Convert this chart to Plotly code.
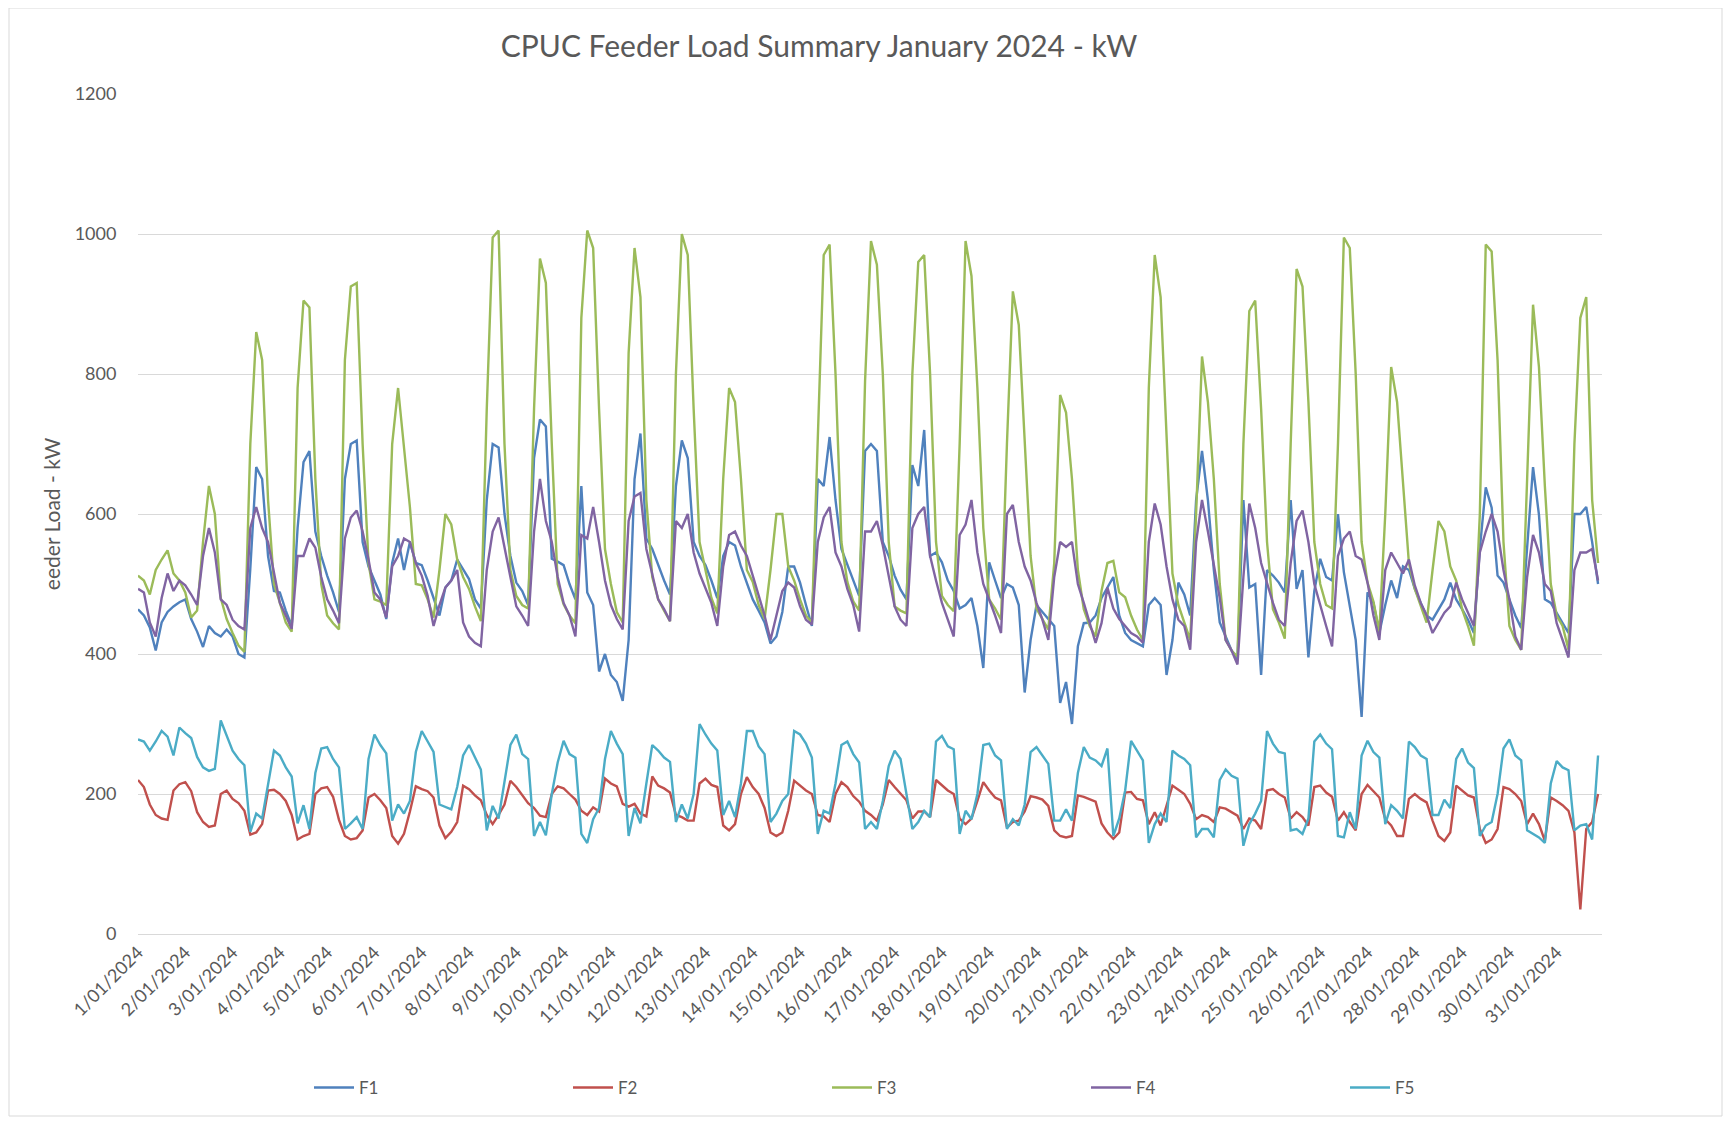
import plotly.graph_objects as go
import pandas as pd

# Samples every 3 hours (00,03,...,21) for each day of January 2024 (8 per day)
F1 = [
    464, 455, 438, 405, 445, 460, 468, 474,
    478, 450, 432, 410, 440, 430, 425, 435,
    425, 400, 395, 522, 667, 650, 540, 490,
    488, 462, 440, 580, 674, 690, 575, 540,
    512, 488, 460, 650, 700, 705, 560, 525,
    505, 485, 450, 530, 565, 520, 560, 530,
    527, 505, 480, 455, 495, 505, 535, 520,
    507, 478, 465, 620, 700, 695, 600, 540,
    502, 490, 470, 680, 735, 725, 536, 532,
    527, 500, 478, 640, 488, 470, 375, 400,
    370, 360, 333, 420, 650, 715, 565, 550,
    527, 505, 485, 640, 705, 680, 560, 540,
    527, 505, 480, 540, 560, 555, 525, 500,
    478, 462, 445, 415, 425, 460, 525, 525,
    502, 470, 440, 650, 640, 710, 620, 550,
    527, 505, 483, 690, 700, 690, 560, 540,
    512, 492, 478, 670, 640, 720, 540, 545,
    531, 505, 490, 465, 470, 480, 440, 380,
    531, 505, 480, 500, 495, 470, 345, 420,
    470, 460, 450, 440, 330, 360, 300, 411,
    444, 445, 455, 480, 495, 510, 455, 430,
    420, 415, 411, 470, 480, 470, 370, 420,
    502, 485, 455, 620, 690, 620, 520, 445,
    425, 405, 393, 620, 495, 500, 370, 520,
    512, 502, 488, 620, 493, 520, 395, 490,
    536, 510, 505, 600, 517, 470, 420, 310,
    488, 473, 430, 470, 505, 480, 525, 520,
    493, 473, 455, 449, 464, 478, 502, 478,
    464, 449, 430, 551, 638, 609, 512, 502,
    478, 455, 437, 551, 667, 599, 478, 473,
    459, 444, 430, 600, 600, 610, 560, 500,
]
F2 = [
    220, 210, 185, 170, 165, 163, 205, 214,
    217, 204, 174, 160, 153, 155, 200, 205,
    193, 187, 176, 142, 145, 157, 205, 206,
    200, 190, 170, 135, 140, 143, 200, 208,
    210, 196, 163, 140, 135, 137, 148, 195,
    200, 191, 180, 140, 129, 143, 175, 211,
    207, 204, 195, 155, 137, 146, 160, 212,
    207, 198, 191, 170, 157, 170, 185, 219,
    210, 198, 187, 180, 169, 167, 200, 211,
    208, 200, 192, 176, 170, 181, 175, 222,
    215, 211, 186, 182, 186, 172, 168, 225,
    212, 208, 202, 170, 167, 162, 162, 215,
    222, 213, 210, 155, 148, 157, 200, 224,
    210, 200, 180, 145, 140, 145, 176, 219,
    212, 205, 200, 170, 168, 160, 200, 217,
    210, 197, 189, 176, 170, 162, 185, 220,
    210, 200, 191, 165, 175, 175, 167, 220,
    212, 205, 200, 165, 157, 165, 190, 217,
    205, 195, 191, 152, 160, 162, 175, 197,
    195, 192, 183, 148, 140, 138, 140, 198,
    196, 193, 189, 158, 145, 136, 145, 202,
    203, 193, 191, 157, 174, 155, 185, 212,
    206, 200, 186, 164, 170, 167, 160, 181,
    179, 174, 169, 150, 165, 162, 150, 205,
    207, 200, 195, 165, 174, 167, 155, 210,
    212, 202, 196, 162, 174, 160, 148, 200,
    213, 204, 195, 164, 155, 140, 140, 193,
    200, 193, 188, 162, 140, 133, 145, 212,
    205, 198, 195, 150, 130, 135, 150, 210,
    207, 200, 190, 157, 172, 157, 133, 195,
    190, 184, 176, 145, 35, 150, 160, 200,
]
F3 = [
    512, 505, 485, 520, 535, 548, 515, 505,
    488, 452, 462, 560, 640, 600, 480, 450,
    430, 412, 403, 700, 860, 820, 620, 500,
    473, 445, 432, 780, 905, 895, 650, 500,
    455, 444, 435, 820, 925, 930, 700, 530,
    478, 475, 470, 700, 780, 690, 610, 500,
    498, 478, 452, 520, 600, 585, 535, 510,
    493, 468, 447, 750, 995, 1005, 700, 520,
    483, 470, 465, 750, 965, 930, 700, 500,
    471, 455, 444, 880, 1005, 980, 750, 550,
    500, 460, 445, 830, 980, 910, 620, 510,
    478, 462, 447, 800, 1000, 970, 750, 560,
    520, 480, 458, 650, 780, 760, 650, 520,
    503, 470, 450, 520, 600, 600, 525, 505,
    478, 455, 445, 720, 970, 985, 800, 560,
    503, 475, 462, 790, 990, 956, 800, 560,
    468, 462, 458, 800, 960, 970, 800, 560,
    483, 470, 461, 700, 990, 940, 780, 580,
    478, 465, 449, 700, 918, 870, 700, 540,
    465, 450, 435, 530, 770, 745, 650, 520,
    464, 440, 425, 490, 530, 533, 488, 481,
    455, 435, 420, 780, 970, 910, 720, 515,
    470, 445, 420, 600, 825, 760, 650, 500,
    420, 405, 396, 700, 890, 905, 750, 560,
    464, 445, 422, 700, 950, 925, 760, 560,
    500, 470, 465, 700, 995, 980, 800, 560,
    502, 475, 432, 600, 810, 760, 640, 530,
    493, 470, 445, 520, 590, 575, 525, 505,
    464, 440, 412, 600, 985, 975, 820, 560,
    440, 420, 406, 650, 899, 810, 640, 500,
    455, 440, 406, 700, 880, 910, 620, 530,
]
F4 = [
    493, 488, 445, 425, 480, 515, 490, 505,
    498, 485, 470, 540, 580, 545, 478, 470,
    449, 440, 435, 580, 610, 580, 560, 515,
    473, 455, 436, 540, 540, 565, 552, 510,
    478, 462, 444, 565, 595, 605, 575, 535,
    488, 478, 452, 525, 540, 565, 560, 530,
    512, 483, 440, 470, 495, 505, 520, 445,
    425, 416, 411, 520, 575, 595, 550, 510,
    468, 455, 440, 575, 650, 590, 560, 510,
    473, 455, 425, 570, 565, 610, 560, 505,
    470, 450, 435, 590, 625, 630, 550, 515,
    478, 464, 447, 590, 580, 600, 545, 515,
    493, 473, 440, 525, 570, 575, 555, 540,
    512, 483, 455, 420, 455, 490, 502, 495,
    468, 449, 442, 560, 595, 610, 545, 525,
    493, 470, 432, 575, 575, 590, 555, 510,
    468, 449, 440, 580, 600, 610, 540, 505,
    473, 449, 425, 570, 585, 620, 545, 500,
    478, 455, 430, 600, 613, 560, 525, 505,
    473, 449, 420, 510, 560, 553, 560, 500,
    473, 444, 416, 444, 495, 465, 450, 440,
    430, 425, 416, 560, 615, 585, 525, 478,
    449, 440, 406, 560, 620, 575, 530, 480,
    420, 405, 385, 510, 615, 580, 530, 500,
    473, 449, 440, 530, 590, 605, 560, 500,
    468, 440, 411, 540, 565, 575, 540, 535,
    502, 455, 420, 520, 545, 530, 515, 535,
    498, 473, 455, 430, 444, 459, 468, 502,
    478, 459, 440, 545, 575, 600, 575, 520,
    478, 425, 406, 510, 570, 545, 500, 490,
    444, 420, 395, 520, 545, 545, 550, 505,
]
F5 = [
    278, 275, 262, 275, 290, 282, 255, 295,
    287, 280, 253, 238, 233, 236, 305, 283,
    262, 250, 241, 146, 172, 165, 212, 262,
    255, 238, 225, 158, 184, 150, 230, 265,
    267, 250, 238, 150, 158, 167, 150, 250,
    285, 270, 258, 162, 185, 172, 190, 260,
    290, 276, 260, 185, 182, 178, 210, 255,
    270, 252, 235, 148, 183, 165, 215, 270,
    285, 257, 250, 140, 160, 141, 200, 245,
    276, 257, 252, 143, 130, 164, 180, 250,
    290, 272, 257, 140, 180, 158, 215, 270,
    262, 252, 246, 160, 185, 165, 200, 300,
    285, 272, 262, 170, 190, 167, 215, 290,
    290, 268, 257, 160, 172, 190, 200, 290,
    285, 272, 252, 143, 176, 172, 215, 270,
    275, 257, 245, 150, 160, 150, 190, 240,
    262, 250, 200, 150, 160, 176, 167, 275,
    283, 268, 264, 143, 176, 164, 200, 270,
    272, 255, 248, 150, 164, 155, 185, 260,
    267, 255, 243, 162, 162, 178, 162, 230,
    267, 252, 248, 240, 265, 140, 165, 205,
    276, 262, 248, 130, 157, 172, 160, 262,
    255, 250, 241, 138, 150, 150, 138, 220,
    235, 226, 222, 126, 157, 172, 190, 290,
    272, 260, 258, 148, 150, 143, 165, 275,
    285, 272, 264, 140, 138, 174, 150, 255,
    276, 260, 252, 157, 184, 176, 165, 275,
    267, 255, 250, 170, 170, 192, 180, 250,
    265, 245, 237, 140, 155, 160, 200, 265,
    278, 255, 248, 148, 143, 138, 130, 215,
    247, 238, 234, 148, 155, 157, 135, 255,
]

SERIES_NAMES = ["F1", "F2", "F3", "F4", "F5"]
COLORS = ["#4F81BD", "#C0504D", "#9BBB59", "#8064A2", "#4BACC6"]
Y_TICKS = [0, 200, 400, 600, 800, 1000, 1200]

times = pd.date_range("2024-01-01 00:00", periods=len(F1), freq="3h")
day_ticks = pd.date_range("2024-01-01", "2024-01-31", freq="D")

FONT = "Lato, 'Open Sans', sans-serif"
GREY = "#595959"

# figure sits inside the page body (8px default margin), so size it to fit
W, H = 1716, 1110
L, R, T, B = 130, 122, 86, 184
PW, PH = W - L - R, H - T - B

fig = go.Figure()
for name, vals, col in zip(SERIES_NAMES, [F1, F2, F3, F4, F5], COLORS):
    fig.add_trace(go.Scatter(x=times, y=vals, mode="lines", name=name,
                             line=dict(color=col, width=2.4)))

fig.update_layout(
    width=W, height=H,
    margin=dict(l=L, r=R, t=T, b=B),
    paper_bgcolor="white", plot_bgcolor="white",
    font=dict(family=FONT, color=GREY, size=15),
    title=dict(text="CPUC Feeder Load Summary January 2024 - kW",
               x=811 / W, xanchor="center", y=1 - 38 / H, yanchor="middle",
               font=dict(family=FONT, size=30, color=GREY)),
    showlegend=True,
    legend=dict(orientation="h", x=(301 - L) / PW, xanchor="left", y=(T + PH - 1080) / PH, yanchor="middle",
                entrywidth=204, entrywidthmode="pixels",
                font=dict(family=FONT, size=17, color=GREY), itemwidth=40),
)
fig.update_xaxes(
    type="date", range=["2024-01-01 00:00", "2024-01-31 23:00"],
    tickmode="array", tickvals=day_ticks, ticktext=[f"{d.day}/{d.month:02d}/{d.year}" for d in day_ticks],
    tickangle=-45, tickfont=dict(family=FONT, size=18, color=GREY),
    showgrid=False, showline=True, linecolor="#d9d9d9", linewidth=1, ticks="", zeroline=False,
)
fig.update_yaxes(
    range=[0, 1200], tickvals=Y_TICKS, showgrid=True, gridcolor="#d9d9d9", gridwidth=1,
    zeroline=False, showline=False, ticks="outside", ticklen=17, tickcolor="rgba(0,0,0,0)",
    tickfont=dict(family=FONT, size=18, color=GREY),
    title=dict(text="eeder Load - kW", font=dict(family=FONT, size=21, color=GREY), standoff=8),
)
fig.add_shape(type="rect", xref="paper", yref="paper",
              x0=(1 - L) / PW, x1=(1714 - L) / PW, y0=(T + PH - 1108) / PH, y1=(T + PH - 0) / PH,
              line=dict(color="#d9d9d9", width=1), fillcolor="rgba(0,0,0,0)", layer="below")

fig.write_html("out.html")
